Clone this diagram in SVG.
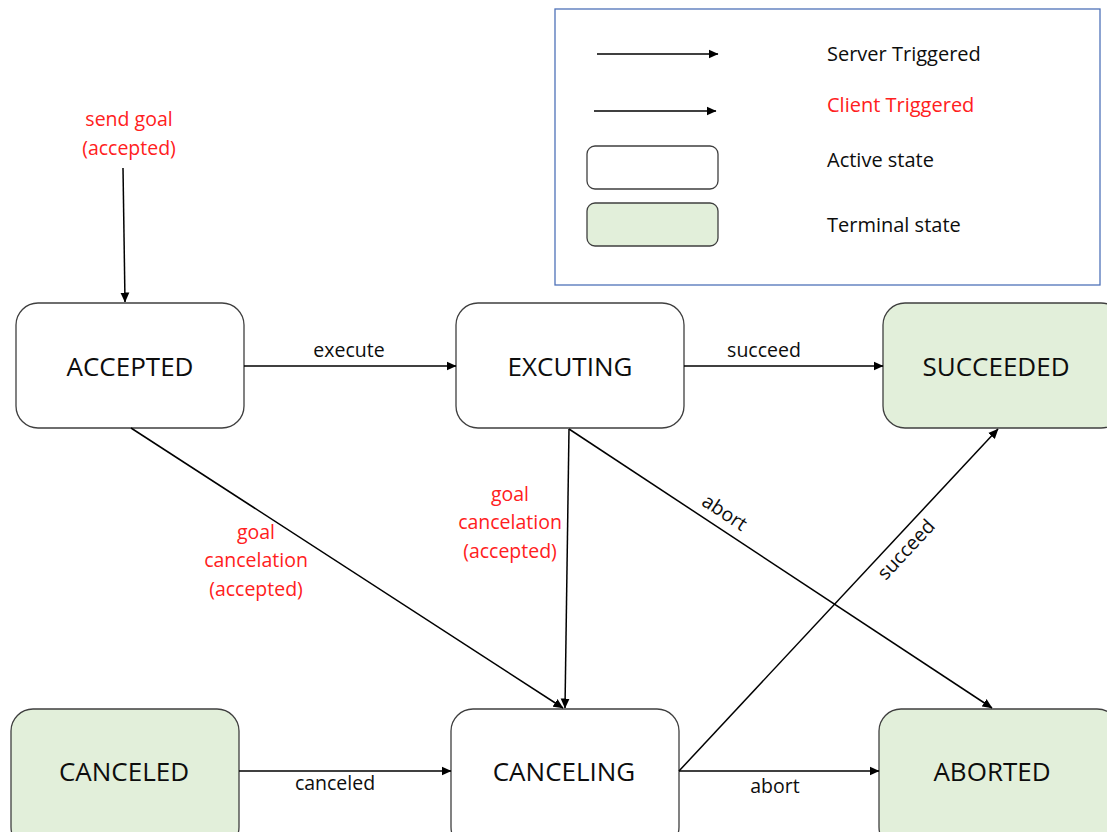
<svg xmlns="http://www.w3.org/2000/svg" width="1107" height="832" viewBox="0 0 1107 832">
  <style>
    .node { stroke: #3f3f3f; stroke-width: 1.3; }
    .active { fill: #ffffff; }
    .terminal { fill: #e2efda; }
    .state { font-family: "Open Sans", "Liberation Sans", sans-serif; font-size: 26px; fill: #0d0d0d; text-anchor: middle; }
    .lbl { font-family: "Open Sans", "Liberation Sans", sans-serif; font-size: 19.5px; fill: #0d0d0d; text-anchor: middle; }
    .edge { stroke: #000; stroke-width: 1.5; fill: none; marker-end: url(#arrow); }
    .legend-text { font-family: "Open Sans", "Liberation Sans", sans-serif; font-size: 20px; fill: #0d0d0d; }
    text.client { fill: #ff2020; }
  </style>
  <defs>
    <marker id="arrow" viewBox="0 0 10 10" refX="9.5" refY="5" markerWidth="10" markerHeight="10" markerUnits="userSpaceOnUse" orient="auto">
      <path d="M0,0.5 L10,5 L0,9.5 Z" fill="#000"/>
    </marker>
  </defs>

  <rect width="1107" height="832" fill="#ffffff"/>

  <!-- legend -->
  <g id="legend">
    <rect x="555" y="9" width="545" height="276" fill="#ffffff" stroke="#4f72b8" stroke-width="1.3"/>
    <line x1="597" y1="54" x2="718" y2="54" class="edge"/>
    <line x1="594" y1="111" x2="716" y2="111" class="edge"/>
    <rect x="587" y="146" width="131" height="43" rx="8" class="node active"/>
    <rect x="587" y="203" width="131" height="43" rx="8" class="node terminal"/>
    <text x="827" y="61" class="legend-text">Server Triggered</text>
    <text x="827" y="112" class="legend-text client">Client Triggered</text>
    <text x="827" y="167" class="legend-text">Active state</text>
    <text x="827" y="232" class="legend-text">Terminal state</text>
  </g>

  <!-- states -->
  <g id="accepted">
    <rect x="16" y="303" width="228" height="125" rx="22" class="node active"/>
    <text x="130" y="376" class="state">ACCEPTED</text>
  </g>
  <g id="executing">
    <rect x="456" y="303" width="228" height="125" rx="22" class="node active"/>
    <text x="570" y="376" class="state">EXCUTING</text>
  </g>
  <g id="succeeded">
    <rect x="883" y="303" width="240" height="125" rx="22" class="node terminal"/>
    <text x="996" y="376" class="state">SUCCEEDED</text>
  </g>
  <g id="canceled">
    <rect x="11" y="709" width="228" height="140" rx="22" class="node terminal"/>
    <text x="124" y="781" class="state">CANCELED</text>
  </g>
  <g id="canceling">
    <rect x="451" y="709" width="228" height="140" rx="22" class="node active"/>
    <text x="564" y="781" class="state">CANCELING</text>
  </g>
  <g id="aborted">
    <rect x="879" y="709" width="240" height="140" rx="22" class="node terminal"/>
    <text x="992" y="781" class="state">ABORTED</text>
  </g>

  <!-- transitions -->
  <g id="connectors">
    <line x1="123" y1="168" x2="125" y2="302" class="edge"/>
    <line x1="244" y1="366" x2="456" y2="366" class="edge"/>
    <line x1="684" y1="366" x2="883" y2="366" class="edge"/>
    <line x1="131" y1="428" x2="563" y2="708" class="edge"/>
    <line x1="569" y1="429" x2="565" y2="708" class="edge"/>
    <line x1="569" y1="429" x2="992" y2="708" class="edge"/>
    <line x1="679" y1="771" x2="998" y2="429" class="edge"/>
    <line x1="239" y1="771" x2="451" y2="771" class="edge"/>
    <line x1="679" y1="771" x2="879" y2="771" class="edge"/>
  </g>

  <!-- transition labels -->
  <g id="labels">
    <text x="129" y="126" class="lbl client">send goal</text>
    <text x="129" y="155" class="lbl client">(accepted)</text>
    <text x="349" y="357" class="lbl">execute</text>
    <text x="764" y="357" class="lbl">succeed</text>
    <text x="256" y="539" class="lbl client">goal</text>
    <text x="256" y="567" class="lbl client">cancelation</text>
    <text x="256" y="596" class="lbl client">(accepted)</text>
    <text x="510" y="501" class="lbl client">goal</text>
    <text x="510" y="529" class="lbl client">cancelation</text>
    <text x="510" y="558" class="lbl client">(accepted)</text>
    <text x="0" y="0" class="lbl" transform="translate(721,518) rotate(33.4)">abort</text>
    <text x="0" y="0" class="lbl" transform="translate(911,554) rotate(-47)">succeed</text>
    <text x="335" y="790" class="lbl">canceled</text>
    <text x="775" y="793" class="lbl">abort</text>
  </g>
</svg>
